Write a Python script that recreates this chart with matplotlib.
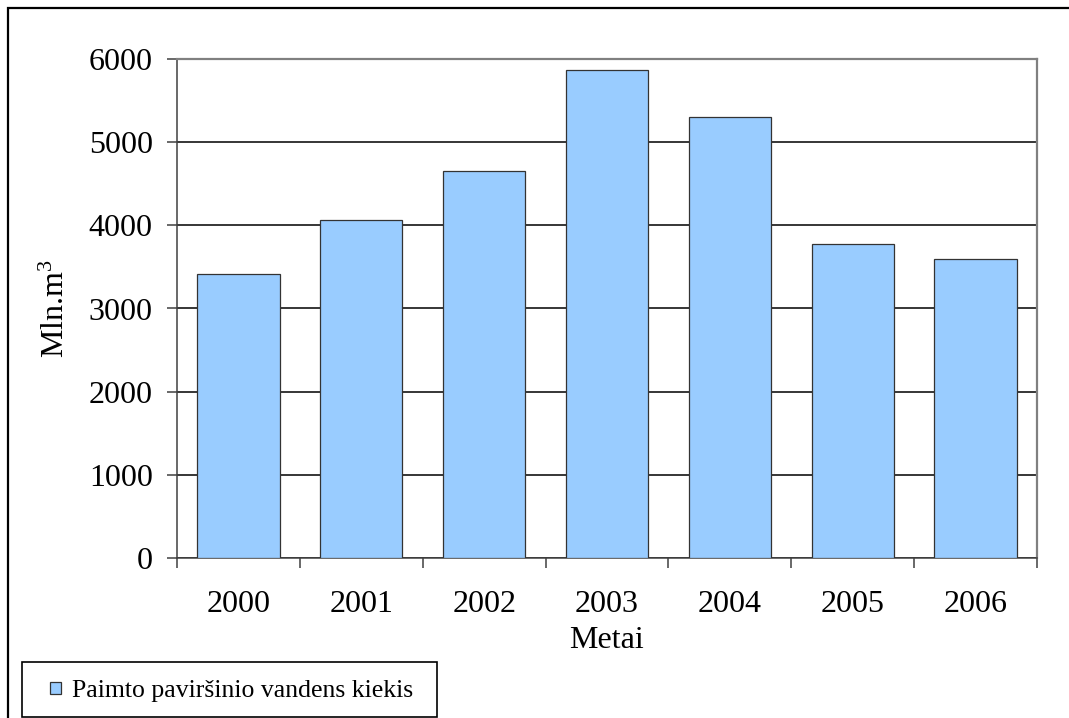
import numpy as np
import matplotlib
matplotlib.use("Agg")
import matplotlib.pyplot as plt
import matplotlib.ticker as ticker
from matplotlib.patches import Rectangle

# surface water withdrawal, million m3
years = ['2000', '2001', '2002', '2003', '2004', '2005', '2006']
volumes = [3410, 4060, 4655, 5860, 5305, 3770, 3600]
y_ticks = [0, 1000, 2000, 3000, 4000, 5000, 6000]

series_label = 'Paimto paviršinio vandens kiekis'
x_title = 'Metai'
y_title = 'Mln.m$^{3}$'

BAR_COLOR = '#99CCFF'
BAR_EDGE = '#333333'


def setupFonts():
    """Serif fonts for text and math."""
    plt.rcParams['font.family'] = ['Liberation Serif', 'DejaVu Serif']
    plt.rcParams['mathtext.fontset'] = 'custom'
    plt.rcParams['mathtext.rm'] = 'Liberation Serif'
    plt.rcParams['mathtext.it'] = 'Liberation Serif'


def px(fig, x, y):
    """Pixel position (from top left) to figure fraction."""
    W, H = fig.get_size_inches() * fig.dpi
    return x / W, 1 - y / H


def drawLegend(fig, label):
    """Boxed legend in the lower left corner."""
    W, H = fig.get_size_inches() * fig.dpi
    x0, y1 = px(fig, 22, 717)
    fig.patches.append(Rectangle((x0, y1), 415 / W, 55 / H, transform=fig.transFigure,
                                 facecolor='white', edgecolor='black', linewidth=1.2))
    mx, my = px(fig, 50, 694)
    fig.patches.append(Rectangle((mx, my), 11 / W, 12 / H, transform=fig.transFigure,
                                 facecolor=BAR_COLOR, edgecolor=BAR_EDGE, linewidth=0.9))
    tx, ty = px(fig, 72, 689)
    fig.text(tx, ty, label, fontsize=18.5, ha='left', va='center_baseline')


def main():
    setupFonts()

    W, H = 1069, 718
    fig = plt.figure(figsize=(W / 100, H / 100), dpi=100)
    ax = fig.add_axes([177 / W, 1 - 558.3 / H, 860 / W, 499.6 / H])

    x = np.arange(len(years))

    # bars
    ax.bar(x, volumes, width=0.67, color=BAR_COLOR, edgecolor=BAR_EDGE,
           linewidth=0.9, zorder=3, label=series_label)

    # axis ranges and grid
    ax.set_xlim(-0.5, len(years) - 0.5)
    ax.set_ylim(0, 6000)
    ax.set_yticks(y_ticks)
    ax.yaxis.grid(True, color='black', linewidth=1.1, zorder=1)
    ax.set_axisbelow(True)

    # spines
    for side in ('top', 'right'):
        ax.spines[side].set_color('#808080')
        ax.spines[side].set_linewidth(1.6)
    for side in ('left', 'bottom'):
        ax.spines[side].set_color('#404040')
        ax.spines[side].set_linewidth(1.1)

    # ticks: labels centred, tick marks between categories
    ax.set_xticks(x)
    ax.set_xticklabels(years)
    ax.xaxis.set_minor_locator(ticker.FixedLocator(np.arange(-0.5, len(years), 1.0)))
    ax.tick_params(axis='x', which='major', length=0, pad=23, labelsize=23)
    ax.tick_params(axis='x', which='minor', length=7.5, width=1.1, color='#404040',
                   direction='out')
    ax.tick_params(axis='y', which='major', length=7.5, width=1.1, color='#404040',
                   direction='out', pad=10, labelsize=23)

    # labels
    ax.set_xlabel(x_title, fontsize=23, labelpad=5)
    ax.set_ylabel(y_title, fontsize=23, labelpad=13)

    drawLegend(fig, series_label)

    # outer chart frame
    fig.patches.append(Rectangle((8 / W, -0.1), 1.2, 1.1 - 8 / H, transform=fig.transFigure,
                                 fill=False, edgecolor='black', linewidth=1.6))

    fig.savefig('out.png', dpi=100)


if __name__ == "__main__":
    main()
